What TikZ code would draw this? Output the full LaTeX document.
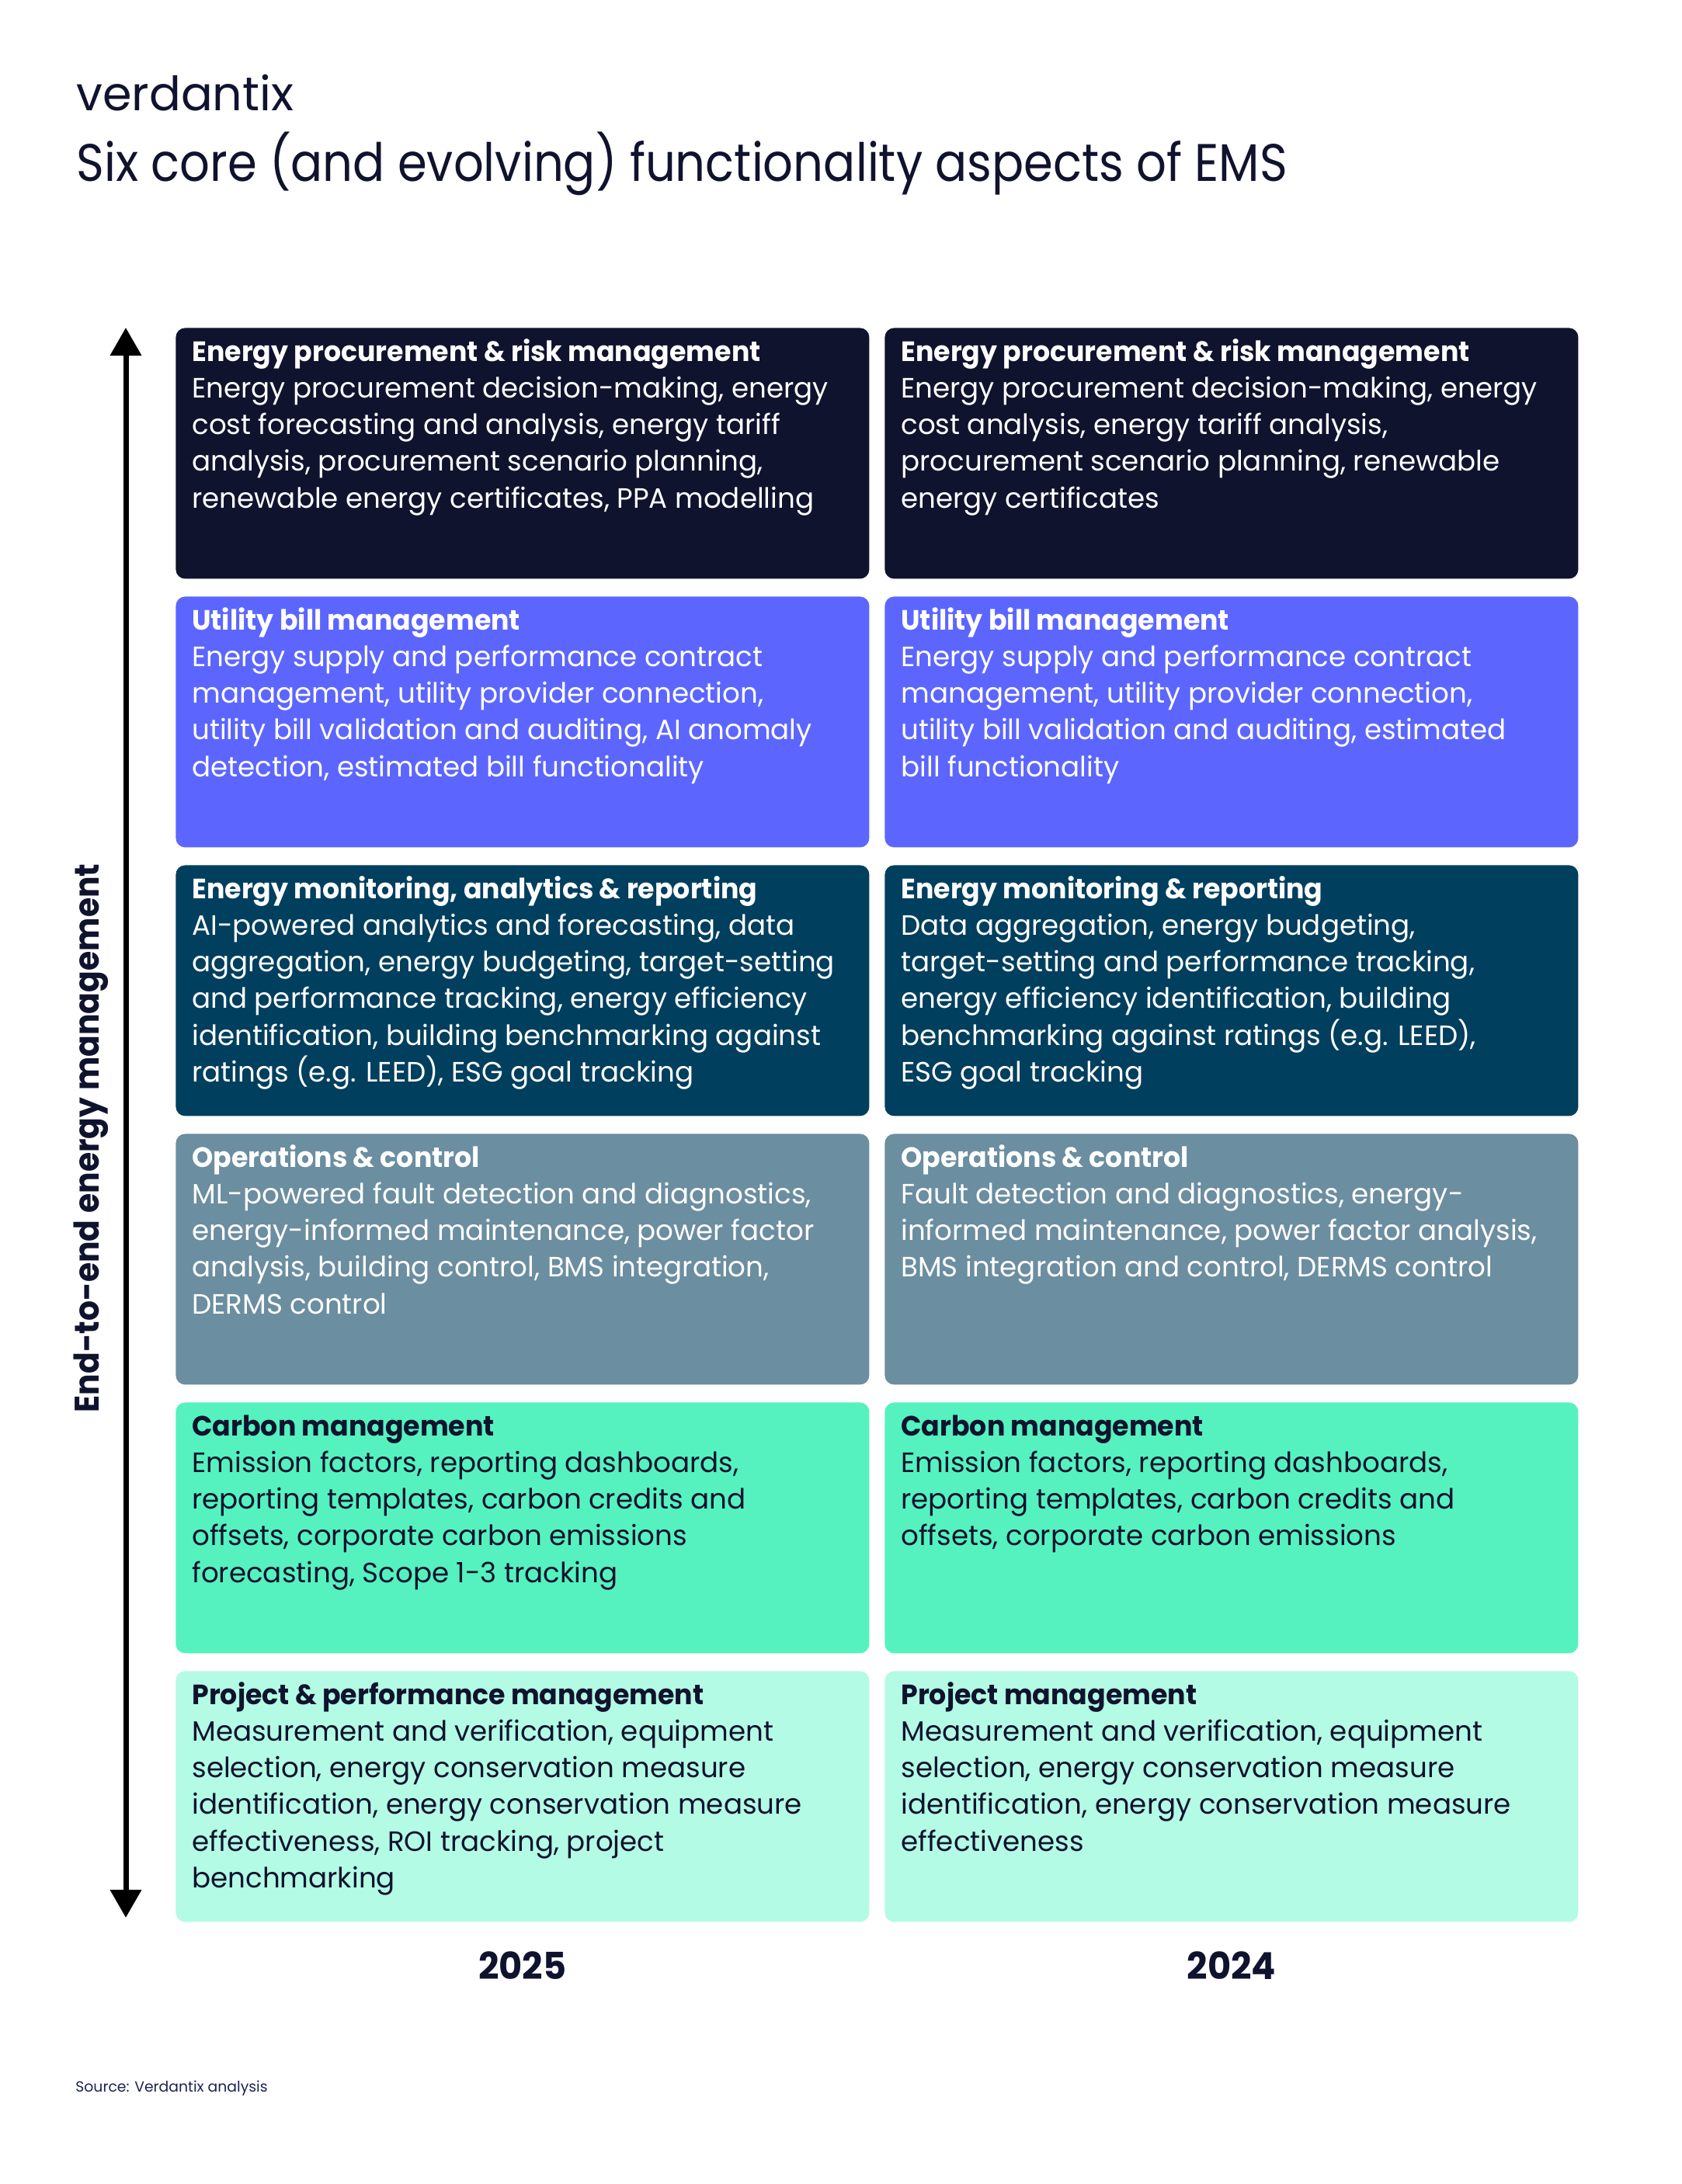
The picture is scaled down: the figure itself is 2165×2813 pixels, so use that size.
\documentclass[tikz,border=0pt]{standalone}
\usepackage{fontspec}
\setmainfont{Poppins}[UprightFeatures={FakeStretch=0.99},BoldFeatures={FakeStretch=0.965}]
\newfontfamily\titlefont{Poppins}[FakeStretch=0.895]
\newfontfamily\labelfont{Poppins}[FakeStretch=0.93]
\usetikzlibrary{arrows.meta}
\definecolor{ink}{HTML}{10132E}
\definecolor{cA}{HTML}{10132E}
\definecolor{cB}{HTML}{5C66FF}
\definecolor{cC}{HTML}{013F5E}
\definecolor{cD}{HTML}{6B8EA0}
\definecolor{cE}{HTML}{55F2BF}
\definecolor{cF}{HTML}{B3FBE4}
\definecolor{srcblue}{HTML}{1B2452}
\newcommand{\cellbody}[2]{\vtop{\hsize=600pt\parindent=0pt\parskip=0pt\baselineskip=23.65pt\noindent{\bfseries #1}\\#2}}
\tikzset{
  box/.style={rounded corners=6pt, inner sep=0pt, minimum width=446.5pt, minimum height=161.5pt, anchor=north west, draw=none},
  celltxt/.style={inner sep=0pt, anchor=base west, font=\fontsize{18}{23.65}\selectfont},
  lighttxt/.style={celltxt, text=white},
  darktxt/.style={celltxt, text=ink},
  yearlbl/.style={inner sep=0pt, anchor=base, text=ink, font=\bfseries\fontsize{24}{28}\selectfont},
  axisarrow/.style={line width=3.5pt, black, {Triangle[width=19.5pt,length=18pt]}-{Triangle[width=19.5pt,length=18pt]}}
}
\begin{document}
\begin{tikzpicture}[x=0.5pt,y=-0.5pt]
\fill[white] (0,0) rectangle (2165,2813);
\useasboundingbox (0,0) rectangle (2165,2813);

% header
\node[inner sep=0pt, anchor=base west, text=ink, font=\fontsize{30.5}{33}\selectfont] (logo) at (98,142) {verdantix};
\node[inner sep=0pt, anchor=base west, text=ink, font=\titlefont\fontsize{34}{40}\selectfont] (title) at (98,233) {Six core (and evolving) functionality aspects of EMS};

% axis
\coordinate (atop) at (162,422);
\coordinate (abot) at (162,2470);
\draw[axisarrow] (atop) -- (abot);
\node[inner sep=0pt, rotate=90, anchor=base, text=ink, font=\labelfont\bfseries\fontsize{22}{26}\selectfont] (axislbl) at (127,1466) {End-to-end energy management};

% left column boxes (2025)
\node[box, fill=cA] (L1) at (226,422) {};
\node[box, fill=cB] (L2) at (226,768) {};
\node[box, fill=cC] (L3) at (226,1114) {};
\node[box, fill=cD] (L4) at (226,1460) {};
\node[box, fill=cE] (L5) at (226,1806) {};
\node[box, fill=cF] (L6) at (226,2152) {};
% right column boxes (2024)
\node[box, fill=cA] (R1) at (1139,422) {};
\node[box, fill=cB] (R2) at (1139,768) {};
\node[box, fill=cC] (R3) at (1139,1114) {};
\node[box, fill=cD] (R4) at (1139,1460) {};
\node[box, fill=cE] (R5) at (1139,1806) {};
\node[box, fill=cF] (R6) at (1139,2152) {};

% left texts
\node[lighttxt] (L1t) at ([shift={(21,43)}]L1.north west) {\cellbody{Energy procurement \& risk management}{Energy procurement decision-making, energy\\cost forecasting and analysis, energy tariff\\analysis, procurement scenario planning,\\renewable energy certificates, PPA modelling}};
\node[lighttxt] (L2t) at ([shift={(21,43)}]L2.north west) {\cellbody{Utility bill management}{Energy supply and performance contract\\management, utility provider connection,\\utility bill validation and auditing, AI anomaly\\detection, estimated bill functionality}};
\node[lighttxt] (L3t) at ([shift={(21,43)}]L3.north west) {\cellbody{Energy monitoring, analytics \& reporting}{AI-powered analytics and forecasting, data\\aggregation, energy budgeting, target-setting\\and performance tracking, energy efficiency\\identification, building benchmarking against\\ratings (e.g. LEED), ESG goal tracking}};
\node[lighttxt] (L4t) at ([shift={(21,43)}]L4.north west) {\cellbody{Operations \& control}{ML-powered fault detection and diagnostics,\\energy-informed maintenance, power factor\\analysis, building control, BMS integration,\\DERMS control}};
\node[darktxt] (L5t) at ([shift={(21,43)}]L5.north west) {\cellbody{Carbon management}{Emission factors, reporting dashboards,\\reporting templates, carbon credits and\\offsets, corporate carbon emissions\\forecasting, Scope 1-3 tracking}};
\node[darktxt] (L6t) at ([shift={(21,43)}]L6.north west) {\cellbody{Project \& performance management}{Measurement and verification, equipment\\selection, energy conservation measure\\identification, energy conservation measure\\effectiveness, ROI tracking, project\\benchmarking}};

% right texts
\node[lighttxt] (R1t) at ([shift={(21,43)}]R1.north west) {\cellbody{Energy procurement \& risk management}{Energy procurement decision-making, energy\\cost analysis, energy tariff analysis,\\procurement scenario planning, renewable\\energy certificates}};
\node[lighttxt] (R2t) at ([shift={(21,43)}]R2.north west) {\cellbody{Utility bill management}{Energy supply and performance contract\\management, utility provider connection,\\utility bill validation and auditing, estimated\\bill functionality}};
\node[lighttxt] (R3t) at ([shift={(21,43)}]R3.north west) {\cellbody{Energy monitoring \& reporting}{Data aggregation, energy budgeting,\\target-setting and performance tracking,\\energy efficiency identification, building\\benchmarking against ratings (e.g. LEED),\\ESG goal tracking}};
\node[lighttxt] (R4t) at ([shift={(21,43)}]R4.north west) {\cellbody{Operations \& control}{Fault detection and diagnostics, energy-\\informed maintenance, power factor analysis,\\BMS integration and control, DERMS control}};
\node[darktxt] (R5t) at ([shift={(21,43)}]R5.north west) {\cellbody{Carbon management}{Emission factors, reporting dashboards,\\reporting templates, carbon credits and\\offsets, corporate carbon emissions}};
\node[darktxt] (R6t) at ([shift={(21,43)}]R6.north west) {\cellbody{Project management}{Measurement and verification, equipment\\selection, energy conservation measure\\identification, energy conservation measure\\effectiveness}};

% years
\node[yearlbl] (y2025) at ([shift={(0,74)}]L6.south) {2025};
\node[yearlbl] (y2024) at ([shift={(0,74)}]R6.south) {2024};

% source
\node[inner sep=0pt, anchor=base west, text=srcblue, font=\fontsize{9.5}{11}\selectfont] (src) at (97,2694) {Source: Verdantix analysis};
\end{tikzpicture}
\end{document}
